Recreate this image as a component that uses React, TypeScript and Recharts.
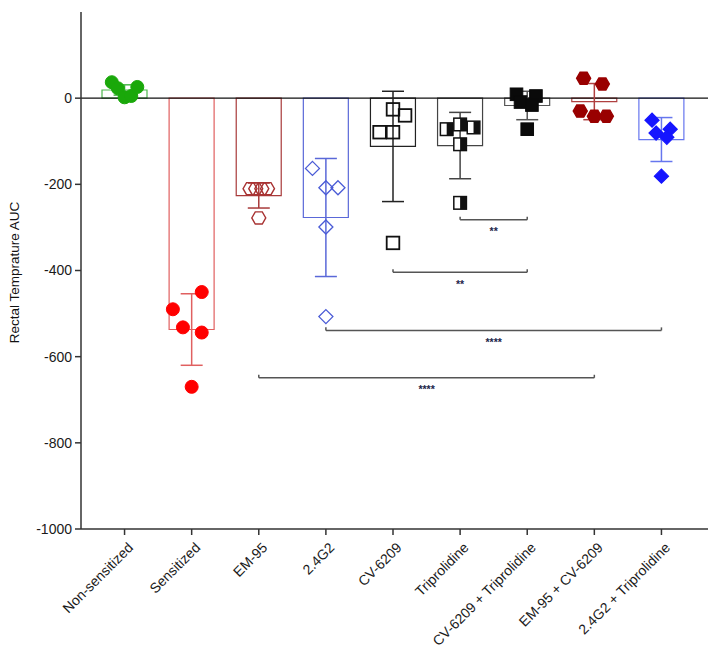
import React from 'react';
import {
  ComposedChart,
  Bar,
  Cell,
  Scatter,
  ErrorBar,
  XAxis,
  YAxis,
  ReferenceLine,
  Label,
} from 'recharts';

const groups = [
  'Non-sensitized',
  'Sensitized',
  'EM-95',
  '2.4G2',
  'CV-6209',
  'Triprolidine',
  'CV-6209 + Triprolidine',
  'EM-95 + CV-6209',
  '2.4G2 + Triprolidine',
];

// bar heights (mean) and error bar half-lengths
const means = [19, -537, -226, -277, -112, -110, -17, -8, -96];
const errs = [12, 83, 29, 137, 128, 77, 33, 42, 51];

// individual animals
const values = [
  [37, 23, 2, 5, 26],
  [-450, -490, -532, -544, -670],
  [-210, -210, -210, -210, -278],
  [-163, -208, -208, -299, -507],
  [-26, -40, -79, -79, -336],
  [-72, -61, -68, -107, -243],
  [9, 5, -9, -16, -72],
  [46, 33, -30, -42, -42],
  [-51, -81, -72, -91, -181],
];

// horizontal scatter of the dots, in category units
const spread = [
  [-0.19, -0.1, 0, 0.1, 0.19],
  [0.15, -0.28, -0.13, 0.15, 0],
  [-0.13, -0.045, 0.045, 0.13, 0],
  [-0.2, 0, 0.18, 0, 0],
  [0, 0.18, -0.2, 0, 0],
  [-0.2, 0, 0.2, 0, 0],
  [-0.16, 0.13, -0.1, 0.07, 0],
  [-0.16, 0.12, -0.21, 0, 0.18],
  [-0.14, -0.08, 0.13, 0.08, 0],
];

const yTicks = [200, 0, -200, -400, -600, -800, -1000];

const comparisons = [
  { from: 5, to: 6, at: -282, mark: '**' },
  { from: 4, to: 6, at: -404, mark: '**' },
  { from: 3, to: 8, at: -539, mark: '****' },
  { from: 2, to: 7, at: -649, mark: '****' },
];

type Kind = 'circle' | 'hexagon' | 'diamond' | 'square' | 'half';

const looks: { bar: string; dot: string; kind: Kind; filled: boolean }[] = [
  { bar: '#4cb84c', dot: '#1aa80a', kind: 'circle', filled: true },
  { bar: '#e06060', dot: '#ff0000', kind: 'circle', filled: true },
  { bar: '#a83a3a', dot: '#a83232', kind: 'hexagon', filled: false },
  { bar: '#5a68d8', dot: '#4a5bd6', kind: 'diamond', filled: false },
  { bar: '#222222', dot: '#111111', kind: 'square', filled: false },
  { bar: '#444444', dot: '#111111', kind: 'half', filled: true },
  { bar: '#555555', dot: '#0a0a0a', kind: 'square', filled: true },
  { bar: '#b04040', dot: '#990000', kind: 'hexagon', filled: true },
  { bar: '#6676ee', dot: '#1515ff', kind: 'diamond', filled: true },
];

const barRows = groups.map((name, i) => ({ name, mean: means[i] }));

const font = '"Liberation Sans", Arial, Helvetica, sans-serif';

function Marker({ cx, cy, look }: { cx: number; cy: number; look: (typeof looks)[number] }) {
  const { dot, kind, filled } = look;
  const fill = filled ? dot : '#ffffff';
  if (kind === 'circle') {
    return <circle cx={cx} cy={cy} r={6.5} fill={fill} stroke={dot} strokeWidth={1} />;
  }
  if (kind === 'hexagon') {
    const r = 7;
    const pts = [0, 1, 2, 3, 4, 5]
      .map((k) => `${cx + r * Math.cos((k * Math.PI) / 3)},${cy + r * Math.sin((k * Math.PI) / 3)}`)
      .join(' ');
    return <polygon points={pts} fill={fill} fillOpacity={filled ? 1 : 0} stroke={dot} strokeWidth={1.4} />;
  }
  if (kind === 'diamond') {
    const r = 7;
    const pts = `${cx},${cy - r} ${cx + r},${cy} ${cx},${cy + r} ${cx - r},${cy}`;
    return <polygon points={pts} fill={fill} fillOpacity={filled ? 1 : 0} stroke={dot} strokeWidth={1.3} />;
  }
  const s = 6.3;
  if (kind === 'half') {
    return (
      <g>
        <rect x={cx - s} y={cy - s} width={2 * s} height={2 * s} fill="#ffffff" stroke={dot} strokeWidth={1.5} />
        <rect x={cx} y={cy - s} width={s} height={2 * s} fill={dot} />
      </g>
    );
  }
  return (
    <rect
      x={cx - s}
      y={cy - s}
      width={2 * s}
      height={2 * s}
      fill={fill}
      fillOpacity={filled ? 1 : 0}
      stroke={dot}
      strokeWidth={filled ? 1 : 1.8}
    />
  );
}

const GroupTick = (props: any) => {
  const { x, y, payload } = props;
  return (
    <g transform={`translate(${x + 6},${y + 8})`}>
      <text
        transform="rotate(-45)"
        textAnchor="end"
        dy="0.35em"
        fontSize={14}
        fill="#1a1a1a"
        fontFamily={font}
      >
        {payload.value}
      </text>
    </g>
  );
};

const yTitle = (props: any) => {
  const vb = props.viewBox;
  const cx = vb.x + 10.5;
  const cy = vb.y + vb.height / 2 + 2;
  return (
    <text
      x={cx}
      y={cy}
      transform={`rotate(-90, ${cx}, ${cy})`}
      textAnchor="middle"
      fontSize={13.5}
      fill="#111"
      fontFamily={font}
    >
      Rectal Temprature AUC
    </text>
  );
};

export default function App() {
  return (
    <div style={{ width: 702, height: 640, fontFamily: font }}>
      <ComposedChart
        width={702}
        height={640}
        data={barRows}
        margin={{ top: 4, right: 0, bottom: 0, left: 0 }}
      >
        <XAxis
          xAxisId="c"
          dataKey="name"
          type="category"
          height={119}
          interval={0}
          padding={{ left: 10, right: 15 }}
          tick={<GroupTick />}
          tickSize={6}
          tickMargin={2}
          axisLine={{ stroke: '#333', strokeWidth: 1.5 }}
          tickLine={{ stroke: '#333', strokeWidth: 1.5 }}
        />
        <XAxis
          xAxisId="n"
          dataKey="x"
          type="number"
          domain={[-0.5, 8.5]}
          allowDataOverflow
          padding={{ left: 10, right: 15 }}
          hide
        />
        <YAxis
          dataKey="y"
          type="number"
          domain={[-1000, 200]}
          ticks={yTicks}
          allowDataOverflow
          width={73}
          tickSize={6}
          tickMargin={3}
          tick={{ fontSize: 14, fill: '#1a1a1a', fontFamily: font }}
          axisLine={{ stroke: '#333', strokeWidth: 1.5 }}
          tickLine={{ stroke: '#333', strokeWidth: 1.5 }}
        >
          <Label content={yTitle} />
        </YAxis>

        <Bar xAxisId="c" dataKey="mean" barSize={45} fill="none" isAnimationActive={false}>
          {groups.map((g, i) => (
            <Cell key={g} fill="none" stroke={looks[i].bar} strokeWidth={1.2} />
          ))}
        </Bar>

        <ReferenceLine xAxisId="n" y={0} stroke="#111" strokeWidth={1.3} />

        {groups.map((g, i) => (
          <Scatter
            key={`err-${g}`}
            xAxisId="n"
            data={[{ x: i, y: means[i], err: errs[i] }]}
            shape={() => <g />}
            isAnimationActive={false}
          >
            <ErrorBar dataKey="err" direction="y" width={11} stroke={looks[i].bar} strokeWidth={1.5} />
          </Scatter>
        ))}

        {groups.map((g, i) => (
          <Scatter
            key={`pts-${g}`}
            xAxisId="n"
            data={values[i].map((v, k) => ({ x: i + spread[i][k], y: v }))}
            shape={(p: any) => <Marker cx={p.cx} cy={p.cy} look={looks[i]} />}
            isAnimationActive={false}
          />
        ))}

        {comparisons.map((c) => (
          <ReferenceLine
            key={`br-${c.from}-${c.to}`}
            xAxisId="n"
            segment={[
              { x: c.from, y: c.at },
              { x: c.to, y: c.at },
            ]}
            stroke="#555"
            strokeWidth={1.5}
            label={{
              value: c.mark,
              position: 'bottom',
              offset: 8,
              fontSize: 10.5,
              fontWeight: 'bold',
              fill: '#23254a',
            }}
          />
        ))}
        {comparisons.flatMap((c) =>
          [c.from, c.to].map((end) => (
            <ReferenceLine
              key={`tip-${c.from}-${c.to}-${end}`}
              xAxisId="n"
              segment={[
                { x: end, y: c.at },
                { x: end, y: c.at + 7 },
              ]}
              stroke="#555"
              strokeWidth={1.5}
            />
          ))
        )}
      </ComposedChart>
    </div>
  );
}
